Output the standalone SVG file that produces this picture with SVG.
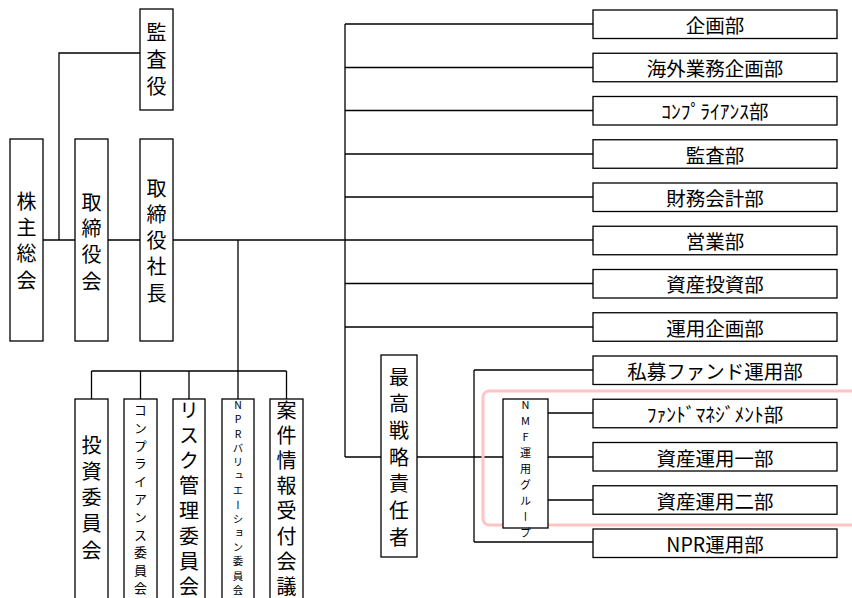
<svg xmlns="http://www.w3.org/2000/svg" width="852" height="598" viewBox="0 0 852 598">
<style>
.box{fill:#fff;stroke:#000;stroke-width:1.3}
.ln{fill:none;stroke:#000;stroke-width:1.3}
.t{font-family:"Noto Sans CJK JP","Noto Sans",sans-serif;fill:#000}
.h{font-size:19.5px;text-anchor:middle;dominant-baseline:central}
.v{writing-mode:vertical-rl;text-orientation:upright;text-anchor:start}
.z{letter-spacing:0}
</style>
<rect width="852" height="598" fill="#fff"/>
<g id="connectors">
<path class="ln" d="M43,240H75M108,240H140M173,240H345M59,240V53H140"/>
<path class="ln" d="M345,24V457M345,24H593M345,67.5H593M345,110.5H593M345,154H593M345,197H593M345,240H593M345,283.5H593M345,327H593"/>
<path class="ln" d="M345,457H381M417,457H503M474,370V542M474,370H593M474,542H593M548,413H593M548,457H593M548,500H593"/>
<path class="ln" d="M238,240V371M91.5,371H286.5M91.5,371V399M140.5,371V399M189,371V399M238,371V399M286.5,371V399"/>
</g>
<rect id="nmf-highlight" x="483" y="391" width="400" height="134" rx="6" fill="none" stroke="#ffc4c4" stroke-width="3"/>
<g id="kansayaku"><rect class="box" x="140" y="9" width="33" height="101"/><text class="t v" x="156.5" y="22" style="font-size:20px;letter-spacing:7px">監査<tspan class="z">役</tspan></text></g>
<g id="kabunushi"><rect class="box" x="10" y="139" width="33" height="202"/><text class="t v" x="26.5" y="191" style="font-size:20px;letter-spacing:6.2px">株主総<tspan class="z">会</tspan></text></g>
<g id="torishimariyakukai"><rect class="box" x="75" y="139" width="33" height="202"/><text class="t v" x="91.5" y="192" style="font-size:20px;letter-spacing:6.2px">取締役<tspan class="z">会</tspan></text></g>
<g id="shacho"><rect class="box" x="140" y="139" width="33" height="202"/><text class="t v" x="156.5" y="178" style="font-size:20px;letter-spacing:6.3px">取締役社<tspan class="z">長</tspan></text></g>
<g id="cso"><rect class="box" x="381" y="355" width="36" height="202"/><text class="t v" x="399" y="367" style="font-size:20px;letter-spacing:6.7px">最高戦略責任<tspan class="z">者</tspan></text></g>
<g id="nmf"><rect class="box" x="503" y="399" width="45" height="129"/><text class="t v" x="525.5" y="399.5" style="font-size:11px;letter-spacing:5px">NMF運用グルー<tspan class="z">プ</tspan></text></g>
<g id="c1"><rect class="box" x="75" y="399" width="33" height="210"/><text class="t v" x="91.5" y="435" style="font-size:20px;letter-spacing:6.3px">投資委員<tspan class="z">会</tspan></text></g>
<g id="c2"><rect class="box" x="124" y="399" width="33" height="210"/><text class="t v" x="140.5" y="403.5" style="font-size:13px;letter-spacing:4.8px">コンプライアンス委員<tspan class="z">会</tspan></text></g>
<g id="c3"><rect class="box" x="173" y="399" width="32" height="210"/><text class="t v" x="189" y="400" style="font-size:20px;letter-spacing:5.2px">リスク管理委員<tspan class="z">会</tspan></text></g>
<g id="c4"><rect class="box" x="222" y="399" width="32" height="210"/><text class="t v" x="238" y="400" style="font-size:10.5px;letter-spacing:3.7px">NPRバリュエーション委員<tspan class="z">会</tspan></text></g>
<g id="c5"><rect class="box" x="270" y="399" width="33" height="210"/><text class="t v" x="286.5" y="400" style="font-size:20px;letter-spacing:5.2px">案件情報受付会<tspan class="z">議</tspan></text></g>
<g id="d1"><rect class="box" x="593" y="10" width="244" height="28.5"/><text class="t h" x="715" y="24">企画部</text></g>
<g id="d2"><rect class="box" x="593" y="53.25" width="244" height="28.5"/><text class="t h" x="715" y="67.5">海外業務企画部</text></g>
<g id="d3"><rect class="box" x="593" y="96.5" width="244" height="28.5"/><text class="t h" x="715" y="110.5">ｺﾝﾌﾟﾗｲｱﾝｽ部</text></g>
<g id="d4"><rect class="box" x="593" y="139.75" width="244" height="28.5"/><text class="t h" x="715" y="154">監査部</text></g>
<g id="d5"><rect class="box" x="593" y="183" width="244" height="28.5"/><text class="t h" x="715" y="197">財務会計部</text></g>
<g id="d6"><rect class="box" x="593" y="226.25" width="244" height="28.5"/><text class="t h" x="715" y="240.5">営業部</text></g>
<g id="d7"><rect class="box" x="593" y="269.5" width="244" height="28.5"/><text class="t h" x="715" y="283.5">資産投資部</text></g>
<g id="d8"><rect class="box" x="593" y="312.75" width="244" height="28.5"/><text class="t h" x="715" y="327">運用企画部</text></g>
<g id="d9"><rect class="box" x="593" y="356" width="244" height="28.5"/><text class="t h" x="715" y="370">私募ファンド運用部</text></g>
<g id="d10"><rect class="box" x="593" y="399.25" width="244" height="28.5"/><text class="t h" x="715" y="413.5">ﾌｧﾝﾄﾞﾏﾈｼﾞﾒﾝﾄ部</text></g>
<g id="d11"><rect class="box" x="593" y="442.5" width="244" height="28.5"/><text class="t h" x="715" y="457">資産運用一部</text></g>
<g id="d12"><rect class="box" x="593" y="485.75" width="244" height="28.5"/><text class="t h" x="715" y="500">資産運用二部</text></g>
<g id="d13"><rect class="box" x="593" y="529" width="244" height="28.5"/><text class="t h" x="715" y="543">NPR運用部</text></g>
</svg>
